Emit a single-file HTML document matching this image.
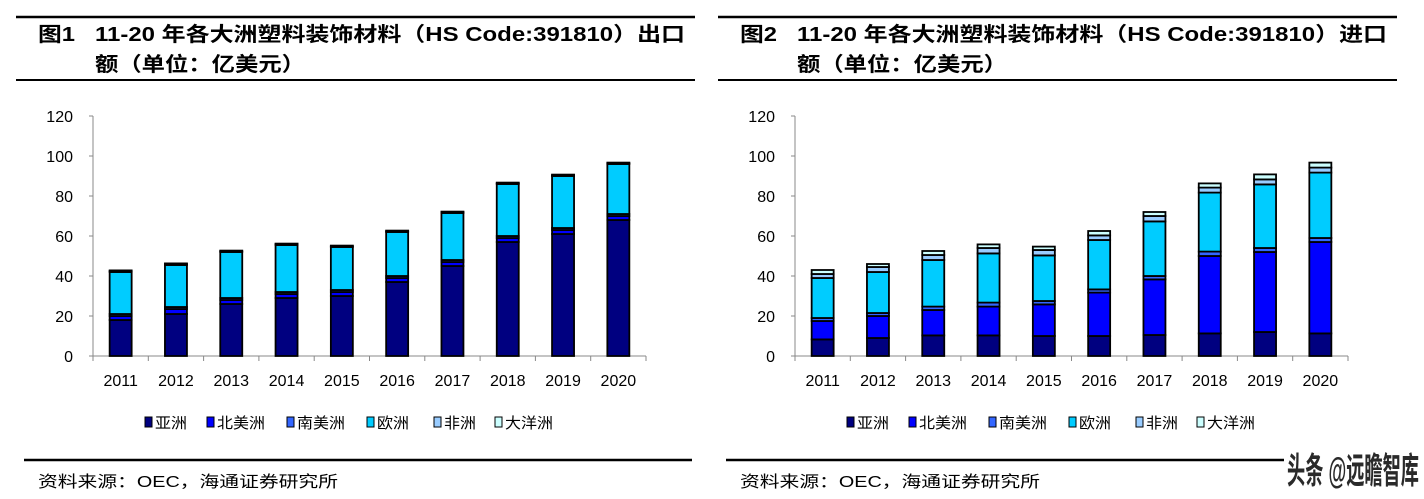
<!DOCTYPE html>
<html><head><meta charset="utf-8"><style>
body{margin:0;background:#fff;width:1424px;height:499px;overflow:hidden;position:relative;font-family:"Liberation Sans","Noto Sans CJK SC",sans-serif}
svg{position:absolute;left:0;top:0}
</style></head><body>
<svg id="s" width="1424" height="499" xmlns="http://www.w3.org/2000/svg"></svg>
<script>
const s=document.getElementById('s');let h='';
const cols=['#000080','#0000ff','#3366ff','#00ccff','#99ccff','#ccffff'];
const names=['亚洲','北美洲','南美洲','欧洲','非洲','大洋洲'];
const lxs=[145,207,287,367,434,495];
const L=[[18,2,1,21,.5,.3],[21,2.5,1,21,.5,.3],[26,2,1,23,.4,.3],[29,2,1,23.5,.4,.3],[30,2,1,21.5,.4,.3],[37,2,1,22,.4,.3],[45,2,1,23.5,.4,.3],[57,2,1,26,.4,.3],[61,2,1,26,.4,.3],[68,2,1,25,.4,.3]];
const Rc=[[8.3,17.5,19,39,41,43],[9,20,21.5,42,44.5,46],[10.3,23,24.7,48,50.5,52.5],[10.3,24.7,26.7,51.3,54,55.8],[10,25.8,27.5,50.3,53,54.7],[10,31.7,33.3,58,60.3,62.5],[10.5,38.3,40,67.3,70,72],[11.3,50,52.2,81.7,84.2,86.3],[12,52,54,85.8,88.3,90.8],[11.3,57,59,91.7,94.2,96.7]];
const R=Rc.map(r=>r.map((v,i)=>v-(i?r[i-1]:0)));
function chart(ox,data,lbl){
 const ax=ox+93,y0=356,sw=55.3;
 h+=`<line x1="${ox+16}" y1="17" x2="${ox+695}" y2="17" stroke="#000" stroke-width="2.5"/>`;
 h+=`<line x1="${ox+16}" y1="80" x2="${ox+695}" y2="80" stroke="#000" stroke-width="2"/>`;
 h+=`<text x="${ox+38}" y="41" font-size="20" font-weight="bold" textLength="37" lengthAdjust="spacingAndGlyphs">${lbl}</text>`;
 h+=`<text x="${ox+95}" y="41" font-size="20" font-weight="bold" textLength="590" lengthAdjust="spacingAndGlyphs">11-20 年各大洲塑料装饰材料（HS Code:391810）${ox?'进口':'出口'}</text>`;
 h+=`<text x="${ox+95}" y="71" font-size="20" font-weight="bold" textLength="210" lengthAdjust="spacingAndGlyphs">额（单位：亿美元）</text>`;
 h+=`<line x1="${ax}" y1="116" x2="${ax}" y2="${y0}" stroke="#888"/>`;
 h+=`<line x1="${ax}" y1="${y0}" x2="${ax+sw*10}" y2="${y0}" stroke="#888"/>`;
 for(let v=0;v<=120;v+=20){const y=y0-v*2;h+=`<line x1="${ax-4}" y1="${y}" x2="${ax}" y2="${y}" stroke="#888"/><text x="${ax-20}" y="${y+6}" font-size="16" text-anchor="end">${v}</text>`;}
 for(let i=0;i<=10;i++){const x=ax+i*sw;h+=`<line x1="${x}" y1="${y0}" x2="${x}" y2="${y0+5}" stroke="#888"/>`;}
 data.forEach((d,i)=>{const cx=ax+sw*(i+.5);let c=0;d.forEach((v,j)=>{const yt=y0-(c+v)*2;h+=`<rect x="${cx-11}" y="${yt}" width="22" height="${v*2}" fill="${cols[j]}" stroke="#000" stroke-width="1.8"/>`;c+=v;});
  h+=`<text x="${cx}" y="386" font-size="16" text-anchor="middle">${2011+i}</text>`;});
 names.forEach((n,j)=>{const lx=ox+lxs[j];h+=`<rect x="${lx}" y="417" width="7" height="10" fill="${cols[j]}" stroke="#000" stroke-width="1"/><text x="${lx+10}" y="428" font-size="15" textLength="${n.length*16}" lengthAdjust="spacingAndGlyphs">${n}</text>`;});
 h+=`<line x1="${ox+24}" y1="460" x2="${ox+692}" y2="460" stroke="#000" stroke-width="2.5"/>`;
 h+=`<text x="${ox+38}" y="487" font-size="16" textLength="300" lengthAdjust="spacingAndGlyphs">资料来源：OEC，海通证券研究所</text>`;
}
chart(0,L,'图1');chart(702,R,'图2');
h+=`<rect x="1284" y="446" width="140" height="44" fill="#fff"/><text x="1287" y="483" font-size="36" font-weight="bold" fill="#2a2a2a" textLength="132" lengthAdjust="spacingAndGlyphs">头条 @远瞻智库</text>`;
s.innerHTML=h;
</script>
</body></html>
